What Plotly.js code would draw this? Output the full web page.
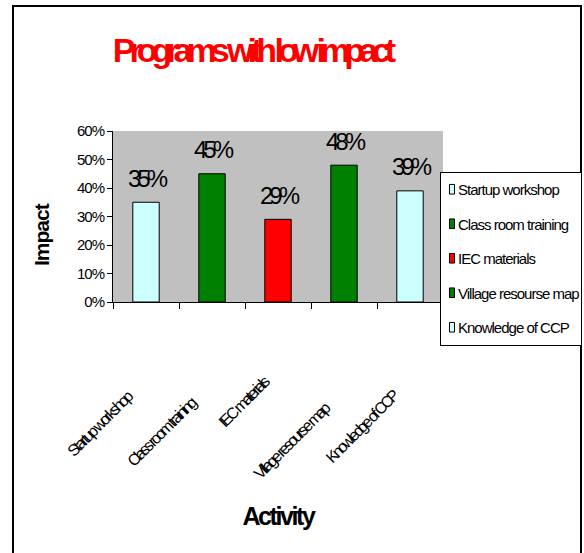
<!DOCTYPE html>
<html><head><meta charset="utf-8">
<script src="https://cdn.plot.ly/plotly-3.0.1.min.js"></script>
<style>
body{margin:0;background:#fff}
#chart{width:584px;height:553px}
.gtitle{letter-spacing:-6px}
.ytick text{letter-spacing:-1px}
.legendtext{letter-spacing:-1px}
.g-xtitle text{letter-spacing:-2.4px}
.legend .legendtext{transform:translateX(-23px)}
.legend rect.bg{width:141px;height:173px}
.legend .legendpoints path{transform:translate(11px,0px) scale(0.42,0.8);vector-effect:non-scaling-stroke}
.annotation[data-index="0"] text,.annotation[data-index="1"] text,.annotation[data-index="2"] text,.annotation[data-index="3"] text,.annotation[data-index="4"] text{letter-spacing:-4px}
.annotation[data-index="5"] text,.annotation[data-index="6"] text,.annotation[data-index="7"] text,.annotation[data-index="8"] text,.annotation[data-index="9"] text{letter-spacing:-2.6px}
.annotation[data-index="10"] text{letter-spacing:-1px}
</style></head><body><div id="chart"></div>
<script>
// ---- data ----
const categories = ["Startup workshop", "Class room training", "IEC materials", "Village resourse map", "Knowledge of CCP"];
const impact = [35, 45, 29, 48, 39];
const barColors = ["#CCFFFF", "#008000", "#FF0000", "#008000", "#CCFFFF"];
const yTickVals = [0, 10, 20, 30, 40, 50, 60];
const yTickText = ["0%", "10%", "20%", "30%", "40%", "50%", "60%"];

// ---- layout-only offsets for the rotated category labels (px) ----
const labelShiftX = [-47, -51, -35, -53, -49];
const labelShiftY = [-122, -130, -100, -139, -125];

const FONT = "Liberation Sans, Arial, sans-serif";

const traces = categories.map((c, i) => ({
  type: "bar",
  x: [c],
  y: [impact[i]],
  name: c,
  legendgroup: "g" + i,
  marker: {color: barColors[i], line: {color: "#000", width: 1}},
  hoverinfo: "skip"
}));

const annotations = [];
categories.forEach((c, i) => {
  annotations.push({
    x: c, y: impact[i], xref: "x", yref: "y",
    text: impact[i] + "%", showarrow: false,
    yanchor: "middle", yshift: 24,
    font: {family: FONT, size: 24, color: "#000"}
  });
});
categories.forEach((c, i) => {
  annotations.push({
    x: c, y: 0, xref: "x", yref: "y",
    text: c, showarrow: false, textangle: -45,
    xanchor: "center", yanchor: "middle",
    xshift: labelShiftX[i], yshift: labelShiftY[i],
    font: {family: FONT, size: 16, color: "#000"}
  });
});
annotations.push({
  xref: "paper", yref: "paper",
  x: (41 - 113) / 330, y: (302 - 235) / 171,
  text: "Impact", showarrow: false, textangle: -90,
  xanchor: "center", yanchor: "middle",
  font: {family: FONT, size: 21, color: "#000", weight: 700}
});

const layout = {
  width: 584, height: 553,
  margin: {l: 113, r: 141, t: 131, b: 251, autoexpand: false},
  paper_bgcolor: "#fff",
  plot_bgcolor: "#C0C0C0",
  font: {family: FONT, color: "#000"},
  barmode: "overlay",
  bargap: 0.6,
  title: {
    text: "Programs with low impact",
    x: 251.5 / 584, xref: "container", xanchor: "center",
    y: 1 - 50 / 553, yref: "container", yanchor: "middle",
    font: {family: FONT, size: 34, color: "#FF0000", weight: 700}
  },
  xaxis: {
    type: "category", range: [-0.5, 4.5],
    showticklabels: false, ticks: "outside", tickson: "boundaries",
    ticklen: 6, tickcolor: "#000", tickwidth: 1,
    showline: true, linecolor: "#000", linewidth: 1,
    showgrid: false, zeroline: false, fixedrange: true,
    title: {text: "Activity", standoff: 205, font: {family: FONT, size: 25, color: "#000", weight: 700}}
  },
  yaxis: {
    range: [0, 60], tickvals: yTickVals, ticktext: yTickText,
    ticks: "outside", ticklen: 5, tickcolor: "#000", tickwidth: 1,
    showline: true, linecolor: "#000", linewidth: 1,
    showgrid: false, zeroline: false, fixedrange: true,
    tickfont: {family: FONT, size: 15, color: "#000"}
  },
  showlegend: true,
  legend: {
    x: (440 - 113) / 330, xanchor: "left",
    y: (302 - 172) / 171, yanchor: "top",
    bgcolor: "#fff", bordercolor: "#000", borderwidth: 1,
    font: {family: FONT, size: 15, color: "#000"},
    traceorder: "grouped", tracegroupgap: 12, itemwidth: 30
  },
  annotations: annotations,
  shapes: [{
    type: "rect", xref: "paper", yref: "paper",
    x0: (13 - 113) / 330, x1: (581 - 113) / 330,
    y0: (302 - 600) / 171, y1: (302 - 6) / 171,
    line: {color: "#000", width: 2}, fillcolor: "rgba(0,0,0,0)"
  }]
};

Plotly.newPlot("chart", traces, layout, {displayModeBar: false, staticPlot: true});
</script></body></html>
